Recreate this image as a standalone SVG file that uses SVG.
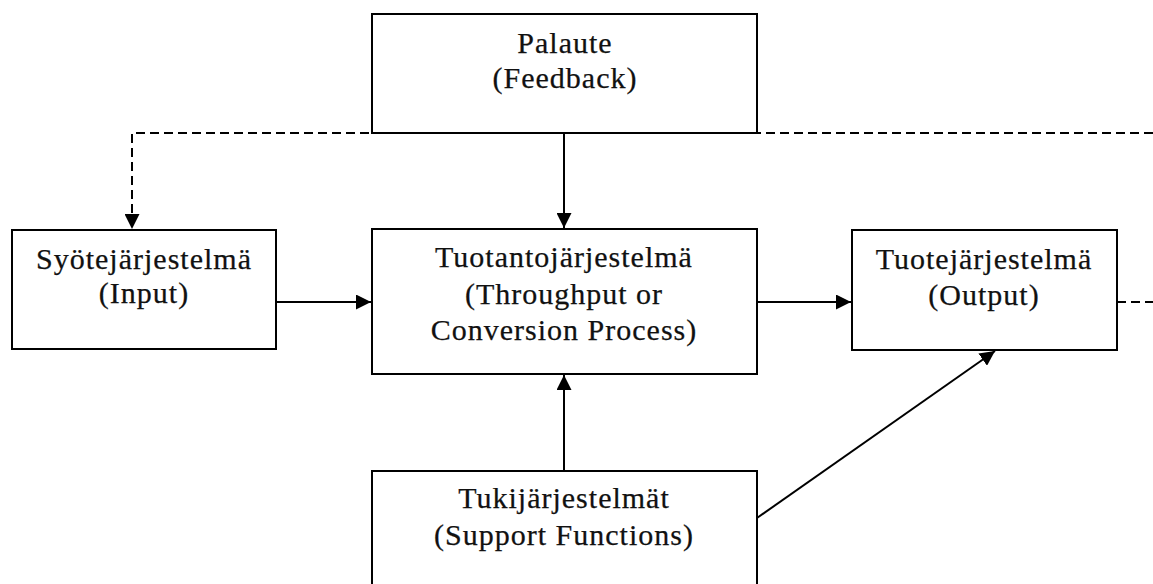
<svg xmlns="http://www.w3.org/2000/svg" width="1153" height="584" viewBox="0 0 1153 584">
  <style>
    .box { fill: #ffffff; stroke: #000000; stroke-width: 2; }
    .lbl { font-family: "Liberation Serif", "Times New Roman", serif; font-size: 30px; letter-spacing: 1px; fill: #111111; stroke: #111111; stroke-width: 0.25; text-anchor: middle; }
    .edge { fill: none; stroke: #000000; stroke-width: 2; }
    .dash { stroke-dasharray: 9 5; }
  </style>
  <defs>
    <marker id="arrow" markerUnits="userSpaceOnUse" markerWidth="16" markerHeight="15" refX="15" refY="7.5" orient="auto">
      <path d="M0,0 L15,7.5 L0,15 Z" fill="#000000"/>
    </marker>
  </defs>
  <rect x="0" y="0" width="1153" height="584" fill="#ffffff"/>

  <!-- connectors -->
  <g id="connectors">
    <!-- feedback loop (dashed) -->
    <path class="edge dash" d="M1153,133 L132,133 L132,229" marker-end="url(#arrow)"/>
    <path class="edge dash" d="M1117,302 L1153,302"/>
    <!-- feedback to throughput -->
    <path class="edge" d="M564,133 L564,228" marker-end="url(#arrow)"/>
    <!-- input to throughput -->
    <path class="edge" d="M276,302 L371,302" marker-end="url(#arrow)"/>
    <!-- throughput to output -->
    <path class="edge" d="M757,302 L851,302" marker-end="url(#arrow)"/>
    <!-- support to throughput -->
    <path class="edge" d="M564,471 L564,375" marker-end="url(#arrow)"/>
    <!-- support to output -->
    <path class="edge" d="M757,518 L995,351" marker-end="url(#arrow)"/>
  </g>

  <g id="feedback">
    <rect class="box" x="372" y="14" width="385" height="119"/>
    <text class="lbl" x="565" y="53">Palaute</text>
    <text class="lbl" x="565" y="88">(Feedback)</text>
  </g>

  <g id="input">
    <rect class="box" x="12" y="230" width="264" height="119"/>
    <text class="lbl" x="144" y="269">Syötejärjestelmä</text>
    <text class="lbl" x="144" y="303">(Input)</text>
  </g>

  <g id="throughput">
    <rect class="box" x="372" y="229" width="385" height="145"/>
    <text class="lbl" x="564" y="267">Tuotantojärjestelmä</text>
    <text class="lbl" x="564" y="304">(Throughput or</text>
    <text class="lbl" x="564" y="340">Conversion Process)</text>
  </g>

  <g id="output">
    <rect class="box" x="852" y="230" width="265" height="120"/>
    <text class="lbl" x="984" y="269">Tuotejärjestelmä</text>
    <text class="lbl" x="984" y="305">(Output)</text>
  </g>

  <g id="support">
    <rect class="box" x="372" y="471" width="385" height="140"/>
    <text class="lbl" x="564" y="508">Tukijärjestelmät</text>
    <text class="lbl" x="564" y="545">(Support Functions)</text>
  </g>
</svg>
